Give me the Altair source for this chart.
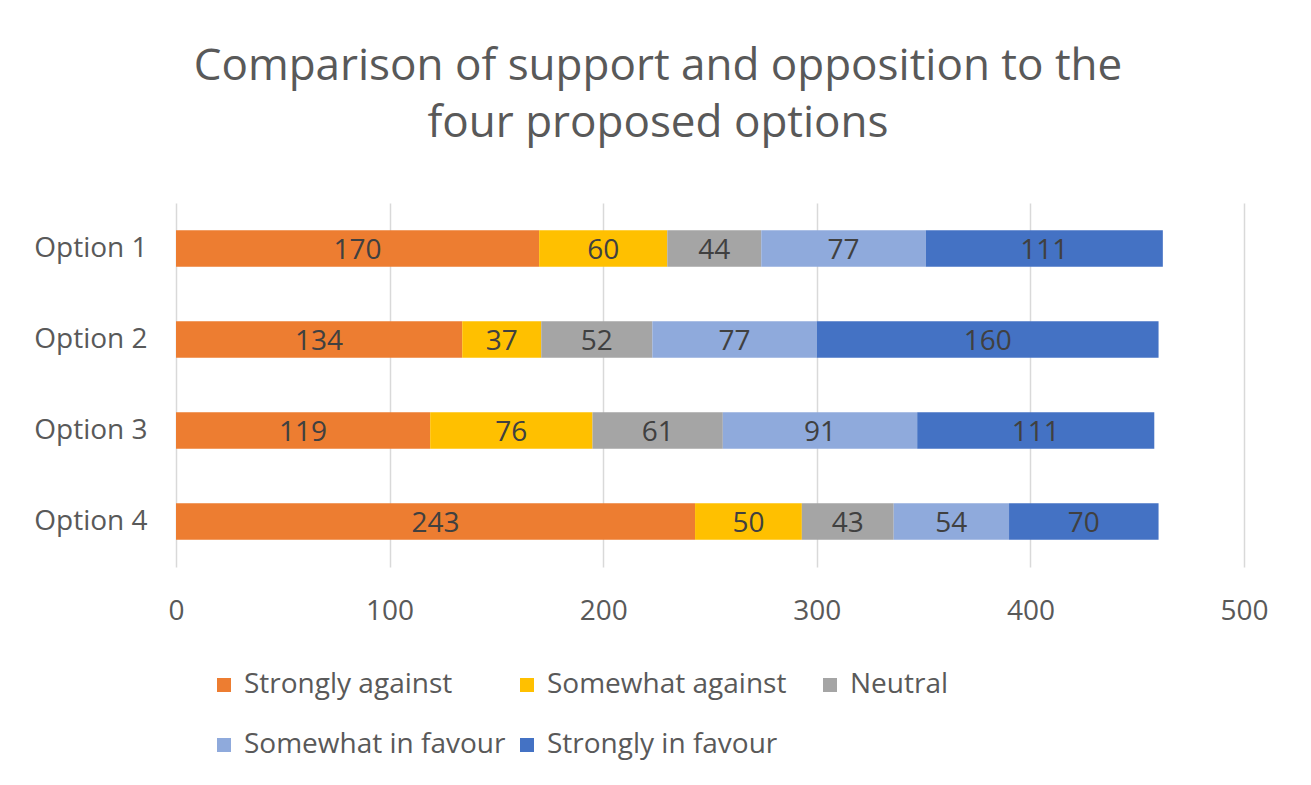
import altair as alt
import pandas as pd

options = ["Option 1", "Option 2", "Option 3", "Option 4"]
categories = ["Strongly against", "Somewhat against", "Neutral", "Somewhat in favour", "Strongly in favour"]
colors = ["#ED7D31", "#FFC000", "#A5A5A5", "#8FAADC", "#4472C4"]

strongly_against = [170, 134, 119, 243]
somewhat_against = [60, 37, 76, 50]
neutral = [44, 52, 61, 43]
somewhat_in_favour = [77, 77, 91, 54]
strongly_in_favour = [111, 160, 111, 70]

series = [strongly_against, somewhat_against, neutral, somewhat_in_favour, strongly_in_favour]
rows = []
for ci, (cat, vals) in enumerate(zip(categories, series)):
    for opt, v in zip(options, vals):
        rows.append({"option": opt, "category": cat, "value": v, "order": ci})
df = pd.DataFrame(rows)

FONT = "Open Sans"
TEXT = "#595959"

base = alt.Chart(df).transform_stack(
    stack="value", groupby=["option"], as_=["x0", "x1"], sort=[alt.SortField("order")]
).transform_calculate(mid="(datum.x0 + datum.x1) / 2")

y_enc = alt.Y(
    "option:N",
    sort=options,
    title=None,
    scale=alt.Scale(paddingInner=0.6, paddingOuter=0.3),
    axis=alt.Axis(domain=False, ticks=False, labelFontSize=28, labelColor=TEXT,
                  labelFont=FONT, labelPadding=29),
)

bars = base.mark_bar().encode(
    x=alt.X("x0:Q", title=None, scale=alt.Scale(domain=[0, 500], nice=False),
            axis=alt.Axis(values=[0, 100, 200, 300, 400, 500], domain=False, ticks=False,
                          grid=True, gridColor="#D9D9D9", gridWidth=1.5,
                          labelFontSize=28, labelColor=TEXT, labelFont=FONT,
                          labelPadding=30, labelFlush=False)),
    x2="x1:Q",
    y=y_enc,
    color=alt.Color("category:N", sort=categories,
                    scale=alt.Scale(domain=categories, range=colors),
                    legend=alt.Legend(title=None, orient="none", legendX=34, legendY=468,
                                      direction="horizontal",
                                      columns=3, gridAlign="all", columnPadding=7,
                                      rowPadding=32, padding=0, symbolType="square",
                                      symbolSize=196, symbolStrokeWidth=0, labelFontSize=28,
                                      labelColor=TEXT, labelFont=FONT, labelOffset=6,
                                      labelLimit=400)),
)

labels = base.mark_text(fontSize=28, font=FONT, color="#404040", baseline="middle", dy=2).encode(
    x=alt.X("mid:Q"),
    y=alt.Y("option:N", sort=options),
    text=alt.Text("value:Q"),
)

chart = alt.layer(bars, labels).properties(
    width=1068,
    height=364,
    autosize=alt.AutoSizeParams(type="none"),
    padding={"left": 168, "top": 195, "right": 59, "bottom": 210},
    title=alt.TitleParams(
        text=["Comparison of support and opposition to the", "four proposed options"],
        fontSize=44, font=FONT, color=TEXT, fontWeight="normal",
        anchor="middle", dx=-52, lineHeight=57, offset=57,
    ),
).configure_view(stroke=None)

chart.save("out.html", embed_options={"renderer": "svg", "actions": False})
